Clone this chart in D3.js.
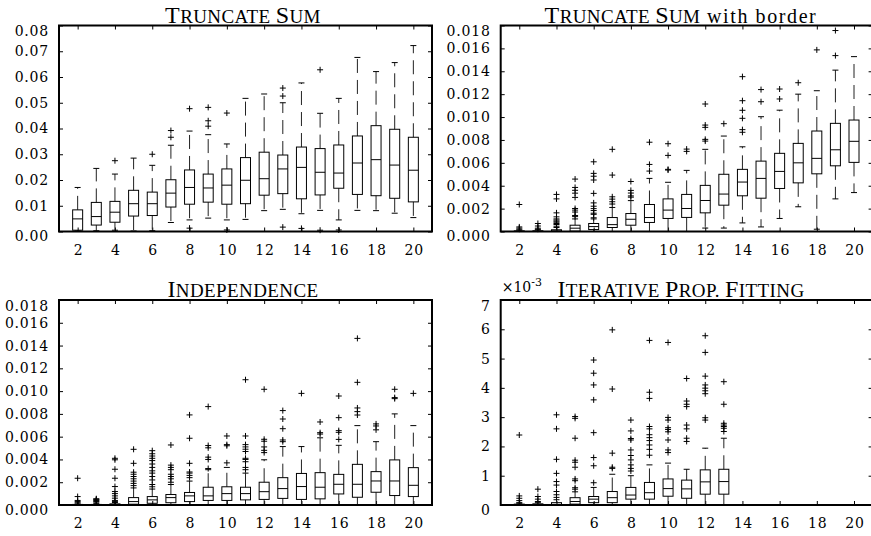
<!DOCTYPE html>
<html>
<head>
<meta charset="utf-8">
<script src="https://cdn.jsdelivr.net/npm/d3@7"></script>
<style>
  html, body { margin: 0; padding: 0; background: #fff; }
  svg { display: block; }
  text { font-family: "Liberation Serif", "Times New Roman", serif; fill: #000; }
  .num { font-family: "DejaVu Serif", "Liberation Serif", serif; }
</style>
</head>
<body>
<svg id="chart" width="871" height="536"></svg>
<script>
// Number of cells (groups on the x axis)
const groups = [2, 3, 4, 5, 6, 7, 8, 9, 10, 11, 12, 13, 14, 15, 16, 17, 18, 19, 20];
const xTicks = [2, 4, 6, 8, 10, 12, 14, 16, 18, 20];

// ---- Truncate Sum ----
const tsTicks = [0, 0.01, 0.02, 0.03, 0.04, 0.05, 0.06, 0.07, 0.08];
const tsLow  = [0.0002, 0.0003, 0.0005, 0.0002, 0.0003, 0.0035, 0.0045, 0.0052, 0.0045, 0.0047, 0.0081, 0.0086, 0.0069, 0.0082, 0.0045, 0.0082, 0.0081, 0.0071, 0.0054];
const tsQ1   = [0.0005, 0.0025, 0.0036, 0.0060, 0.0062, 0.0095, 0.0106, 0.0114, 0.0106, 0.0108, 0.0141, 0.0147, 0.0127, 0.0142, 0.0168, 0.0144, 0.0139, 0.0129, 0.0115];
const tsMed  = [0.0049, 0.0058, 0.0075, 0.0108, 0.0108, 0.0149, 0.0171, 0.0169, 0.0180, 0.0199, 0.0205, 0.0243, 0.0249, 0.0230, 0.0227, 0.0266, 0.0279, 0.0258, 0.0238];
const tsQ3   = [0.0084, 0.0113, 0.0117, 0.0160, 0.0153, 0.0201, 0.0239, 0.0223, 0.0243, 0.0287, 0.0308, 0.0297, 0.0328, 0.0322, 0.0336, 0.0371, 0.0411, 0.0397, 0.0366];
const tsHigh = [0.0171, 0.0245, 0.0223, 0.0285, 0.0257, 0.0335, 0.0390, 0.0376, 0.0340, 0.0517, 0.0534, 0.0500, 0.0577, 0.0459, 0.0517, 0.0676, 0.0621, 0.0656, 0.0722];
const tsOut  = [[], [], [0.0275], [], [0.0300], [0.0366, 0.0392], [0.0477, 0.0013], [0.0409, 0.0430, 0.0482],
                [0.0460, 0.0006], [], [], [0.0526, 0.0557, 0.0017], [0.0012], [0.0628, 0.0005], [0.0006], [], [], [], []];

// ---- Truncate Sum with border ----
const tbTicks = [0, 0.002, 0.004, 0.006, 0.008, 0.010, 0.012, 0.014, 0.016, 0.018];
const tbLow  = [0, 0, 0, 0, 0, 0, 0, 0, 0, 0, 0.0003, 0.0003, 0.00075, 0.0004, 0.00114, 0.00216, 0.0002, 0.00285, 0.0034];
const tbQ1   = [0, 0, 0, 0.00003, 0.00017, 0.00035, 0.00055, 0.00079, 0.00114, 0.00123, 0.00163, 0.0023, 0.00312, 0.00291, 0.00376, 0.00425, 0.00504, 0.00574, 0.00604];
const tbMed  = [0.00002, 0.00002, 0.00005, 0.00029, 0.00043, 0.0006, 0.00107, 0.00122, 0.00187, 0.00201, 0.00271, 0.00327, 0.00432, 0.00464, 0.00525, 0.006, 0.00639, 0.00714, 0.00788];
const tbQ3   = [0.00005, 0.00006, 0.00015, 0.00055, 0.0007, 0.00122, 0.00157, 0.00236, 0.00285, 0.00324, 0.00403, 0.005, 0.00543, 0.00615, 0.00683, 0.0077, 0.00878, 0.00945, 0.00974];
const tbHigh = [0.00012, 0.00015, 0.00035, 0.0011, 0.0011, 0.0021, 0.0027, 0.00464, 0.0043, 0.00534, 0.00718, 0.00834, 0.0074, 0.01003, 0.0106, 0.012, 0.0123, 0.0141, 0.01528];
const tbOut  = [[0.00236, 0.0004, 0.0003, 0.0002], [0.0007, 0.00048, 0.00029, 0.0002],
                [0.00324, 0.00285, 0.00163, 0.00128, 0.0011, 0.001, 0.0009, 0.00081, 0.0007, 0.00061, 0.00046],
                [0.00458, 0.00385, 0.0036, 0.00335, 0.00298, 0.00201, 0.00187, 0.0017, 0.0014, 0.0013],
                [0.00609, 0.00508, 0.00483, 0.0045, 0.00333, 0.0025, 0.00221, 0.002, 0.00183, 0.0016, 0.0015, 0.0012],
                [0.00718, 0.00493, 0.00303, 0.00283, 0.0026, 0.0024],
                [0.00437, 0.00359, 0.00336, 0.00311, 0.003],
                [0.0078, 0.00586, 0.00528], [0.00767, 0.00665, 0.00543, 0.00537], [0.0072, 0.007],
                [0.01114, 0.0093, 0.0091, 0.00805, 0.0079], [0.00942],
                [0.01353, 0.01143, 0.01059, 0.00989, 0.0089, 0.00867], [0.0124, 0.01134], [0.01245, 0.01158],
                [0.013], [0.01587], [0.01756, 0.01537], []];

// ---- Independence ----
const inTicks = [0, 0.002, 0.004, 0.006, 0.008, 0.010, 0.012, 0.014, 0.016, 0.018];
const inLow  = [0, 0, 0, 0, 0, 0, 0, 0, 0, 0, 0, 0, 0, 0, 0, 0, 0, 0, 0];
const inQ1   = [0, 0, 0, 0.00007, 0.00015, 0.0002, 0.0003, 0.0004, 0.0004, 0.00045, 0.00049, 0.00058, 0.00049, 0.00054, 0.00097, 0.00068, 0.00112, 0.00083, 0.00074];
const inMed  = [0.00002, 0.00002, 0.00003, 0.0003, 0.00045, 0.00065, 0.0008, 0.0008, 0.001, 0.001, 0.00117, 0.00144, 0.00162, 0.00156, 0.00182, 0.00182, 0.00211, 0.00211, 0.00173];
const inQ3   = [0.00005, 0.00005, 0.0001, 0.00065, 0.00074, 0.00092, 0.0011, 0.00156, 0.0016, 0.00156, 0.002, 0.0024, 0.00277, 0.00284, 0.00269, 0.00357, 0.00293, 0.00396, 0.00328];
const inHigh = [0.0001, 0.00012, 0.00022, 0.0015, 0.0014, 0.0018, 0.0021, 0.0031, 0.0033, 0.0028, 0.00397, 0.00513, 0.00513, 0.0059, 0.00524, 0.00697, 0.00556, 0.008, 0.00697];
const inOut  = [[0.00235, 0.00074, 0.0004, 0.0003, 0.0002],
                [0.00055, 0.0005, 0.00045, 0.0004, 0.0003, 0.00025],
                [0.0041, 0.00397, 0.00314, 0.00235, 0.00162, 0.00118, 0.001, 0.0008, 0.0006, 0.0004, 0.0003],
                [0.00489, 0.00366, 0.00288, 0.0027, 0.0025, 0.0023, 0.0021, 0.0019, 0.0017],
                [0.00477, 0.0045, 0.0043, 0.0041, 0.0039, 0.0036, 0.0033, 0.003, 0.0028, 0.0025, 0.0022, 0.0018, 0.0016],
                [0.00527, 0.0035, 0.0033, 0.0031, 0.0027, 0.0025, 0.0023, 0.002],
                [0.00791, 0.00586, 0.00366, 0.0029, 0.0028, 0.0026, 0.0024],
                [0.00864, 0.00522, 0.00502, 0.0042, 0.004, 0.0032],
                [0.00606, 0.0053, 0.0052, 0.0037],
                [0.011, 0.00606, 0.0053, 0.0051, 0.0049, 0.0047, 0.0041, 0.004, 0.0038, 0.0033, 0.0031],
                [0.01016, 0.00577, 0.0056, 0.0051, 0.0048, 0.0046],
                [0.00829, 0.00755, 0.0067, 0.00571, 0.00556],
                [0.0098], [0.00729, 0.00635, 0.00623],
                [0.00957, 0.00767, 0.00653, 0.00638, 0.00576],
                [0.01463, 0.01077, 0.00852, 0.0082, 0.0079],
                [0.00712, 0.00694, 0.0066], [0.01016, 0.00943, 0.00934], [0.0098]];

// ---- Iterative Proportional Fitting (values in units of 1e-3) ----
const ipTicks = [0, 1, 2, 3, 4, 5, 6, 7];
const ipLow  = [0, 0, 0, 0, 0, 0, 0, 0, 0, 0, 0, 0, null, null, null, null, null, null, null];
const ipQ1   = [0, 0, 0, 0.03, 0.08, 0.08, 0.2, 0.2, 0.3, 0.23, 0.37, 0.37, null, null, null, null, null, null, null];
const ipMed  = [0.01, 0.01, 0.02, 0.12, 0.2, 0.25, 0.34, 0.42, 0.56, 0.55, 0.79, 0.8, null, null, null, null, null, null, null];
const ipQ3   = [0.03, 0.04, 0.08, 0.25, 0.29, 0.46, 0.6, 0.77, 0.89, 0.85, 1.2, 1.22, null, null, null, null, null, null, null];
const ipHigh = [0.06, 0.08, 0.18, 0.45, 0.6, 1.05, 1.0, 1.37, 1.43, 1.22, 1.94, 2.28, null, null, null, null, null, null, null];
const ipOut  = [[2.39, 0.31, 0.23, 0.15, 0.08], [0.54, 0.29, 0.2, 0.12],
                [3.08, 2.6, 1.56, 1.08, 0.8, 0.68, 0.46, 0.35, 0.26],
                [3.02, 2.96, 2.28, 1.53, 1.46, 1.29, 0.89, 0.83, 0.59, 0.54],
                [4.95, 4.5, 4.1, 3.59, 2.47, 1.62, 1.34, 0.76],
                [5.98, 3.96, 1.77, 1.29, 1.25],
                [2.9, 2.53, 2.27, 2.22, 1.88, 1.69, 1.54, 1.37, 1.25, 1.16],
                [5.62, 3.85, 3.64, 2.68, 2.6, 2.4, 2.3, 2.2, 2.05, 1.9, 1.7],
                [5.55, 2.99, 2.9, 2.64, 2.58, 2.5, 2.22, 1.88, 1.79],
                [4.32, 3.55, 3.44, 3.36, 2.73, 2.6, 2.28, 2.17],
                [5.78, 5.21, 4.4, 4.1, 3.99, 3.9, 3.8, 2.98, 2.9],
                [4.21, 3.44, 2.79, 2.73, 2.68, 2.62, 2.51],
                [], [], [], [], [], [], []];

// Panel layout and series wiring
const panels = [
  { title: [{ sc: "Truncate Sum" }], titleX: 243, titleY: 23,
    low: tsLow, q1: tsQ1, med: tsMed, q3: tsQ3, high: tsHigh, out: tsOut,
    ticks: tsTicks, fmt: d3.format(".2f"),
    left: 59, right: 432, top: 25.5, bottom: 231.5 },
  { title: [{ sc: "Truncate Sum" }, { plain: " with border" }], titleX: 681, titleY: 23,
    low: tbLow, q1: tbQ1, med: tbMed, q3: tbQ3, high: tbHigh, out: tbOut,
    ticks: tbTicks, fmt: d3.format(".3f"),
    left: 500.7, right: 872.6, top: 25.5, bottom: 231.5 },
  { title: [{ sc: "Independence" }], titleX: 243, titleY: 297,
    low: inLow, q1: inQ1, med: inMed, q3: inQ3, high: inHigh, out: inOut,
    ticks: inTicks, fmt: d3.format(".3f"),
    left: 59, right: 432, top: 300, bottom: 505 },
  { title: [{ sc: "Iterative Prop. Fitting" }], titleX: 681, titleY: 297,
    low: ipLow, q1: ipQ1, med: ipMed, q3: ipQ3, high: ipHigh, out: ipOut,
    ticks: ipTicks, fmt: d3.format("d"), exponent: "-3",
    left: 500.7, right: 872.6, top: 300, bottom: 505 }
];

const svg = d3.select("#chart");
const BIG = 24, SMALL = 19;

// Writes a title with small capitals: capitals at full size, the rest as reduced capitals
function writeTitle(sel, parts) {
  parts.forEach(part => {
    if (part.plain) {
      sel.append("tspan").attr("font-size", SMALL + 1).attr("letter-spacing", 1.6).text(part.plain);
      return;
    }
    let run = "", runBig = null;
    const flush = () => {
      if (!run) return;
      sel.append("tspan").attr("font-size", runBig ? BIG : SMALL).text(run);
      run = "";
    };
    for (const ch of part.sc) {
      const isBig = ch !== ch.toLowerCase();
      if (runBig !== null && isBig !== runBig) flush();
      runBig = isBig;
      run += ch.toUpperCase();
    }
    flush();
  });
}

function drawPanel(p) {
  const g = svg.append("g");
  const yMax = p.ticks[p.ticks.length - 1];
  const x = d3.scaleLinear().domain([1, 21]).range([p.left, p.right]);
  const y = d3.scaleLinear().domain([0, yMax]).range([p.bottom, p.top]);

  const styleAxis = a => {
    a.select(".domain").remove();
    a.selectAll(".tick line").attr("stroke", "#000").attr("stroke-width", 1);
    a.selectAll(".tick text")
      .attr("class", "num")
      .attr("font-size", 14)
      .attr("letter-spacing", 0.8)
      .attr("fill", "#000");
  };

  // inward ticks on all four sides
  g.append("g").attr("transform", `translate(0,${p.bottom})`)
    .call(d3.axisBottom(x).tickValues(xTicks).tickSize(-4).tickPadding(13.5).tickFormat(d3.format("d")))
    .call(styleAxis)
    .call(a => a.selectAll(".tick text").attr("dx", 0.4));
  g.append("g").attr("transform", `translate(0,${p.top})`)
    .call(d3.axisTop(x).tickValues(xTicks).tickSize(-4).tickFormat(""))
    .call(styleAxis);
  g.append("g").attr("transform", `translate(${p.left},0)`)
    .call(d3.axisLeft(y).tickValues(p.ticks).tickSize(-4).tickPadding(10).tickFormat(p.fmt))
    .call(styleAxis)
    .call(a => a.selectAll(".tick text")
      .attr("transform", d => (d === 0 ? "translate(0,5)" : d === yMax ? "translate(0,6)" : null)));
  g.append("g").attr("transform", `translate(${p.right},0)`)
    .call(d3.axisRight(y).tickValues(p.ticks).tickSize(-4).tickFormat(""))
    .call(styleAxis);

  // boxes
  const hw = 5, cw = 3, mk = 3;
  const boxes = g.append("g").attr("fill", "none").attr("stroke", "#000").attr("stroke-width", 1);
  groups.forEach((grp, i) => {
    if (p.q1[i] == null) return;
    const cx = x(grp);
    const b = boxes.append("g");
    // dashed whiskers out to the adjacent values
    b.append("line").attr("x1", cx).attr("x2", cx).attr("y1", y(p.q3[i])).attr("y2", y(p.high[i]))
      .attr("stroke-dasharray", "14,7").attr("stroke", "#222");
    b.append("line").attr("x1", cx).attr("x2", cx).attr("y1", y(p.q1[i])).attr("y2", y(p.low[i]))
      .attr("stroke-dasharray", "14,7").attr("stroke", "#222");
    b.append("line").attr("x1", cx - cw).attr("x2", cx + cw).attr("y1", y(p.high[i])).attr("y2", y(p.high[i]));
    b.append("line").attr("x1", cx - cw).attr("x2", cx + cw).attr("y1", y(p.low[i])).attr("y2", y(p.low[i]));
    // interquartile box and median
    b.append("rect").attr("x", cx - hw).attr("width", 2 * hw)
      .attr("y", y(p.q3[i])).attr("height", Math.max(0.5, y(p.q1[i]) - y(p.q3[i])));
    b.append("line").attr("x1", cx - hw).attr("x2", cx + hw).attr("y1", y(p.med[i])).attr("y2", y(p.med[i]));
    // outliers
    p.out[i].forEach(v => {
      const cy = y(v);
      b.append("path").attr("d", `M${cx - mk},${cy}h${2 * mk}M${cx},${cy - mk}v${2 * mk}`);
    });
  });

  // axes frame
  g.append("rect")
    .attr("x", p.left).attr("y", p.top)
    .attr("width", p.right - p.left).attr("height", p.bottom - p.top)
    .attr("fill", "none").attr("stroke", "#000").attr("stroke-width", 2);

  // title
  const t = g.append("text").attr("x", p.titleX).attr("y", p.titleY)
    .attr("text-anchor", "middle").attr("letter-spacing", 0.4);
  writeTitle(t, p.title);

  // axis multiplier
  if (p.exponent) {
    const e = g.append("text").attr("class", "num").attr("x", p.left + 1).attr("y", p.top - 8).attr("font-size", 14);
    e.append("tspan").text("\u00d710");
    e.append("tspan").attr("font-size", 11).attr("dy", -6).text(p.exponent);
  }
}

panels.forEach(drawPanel);
</script>
</body>
</html>
